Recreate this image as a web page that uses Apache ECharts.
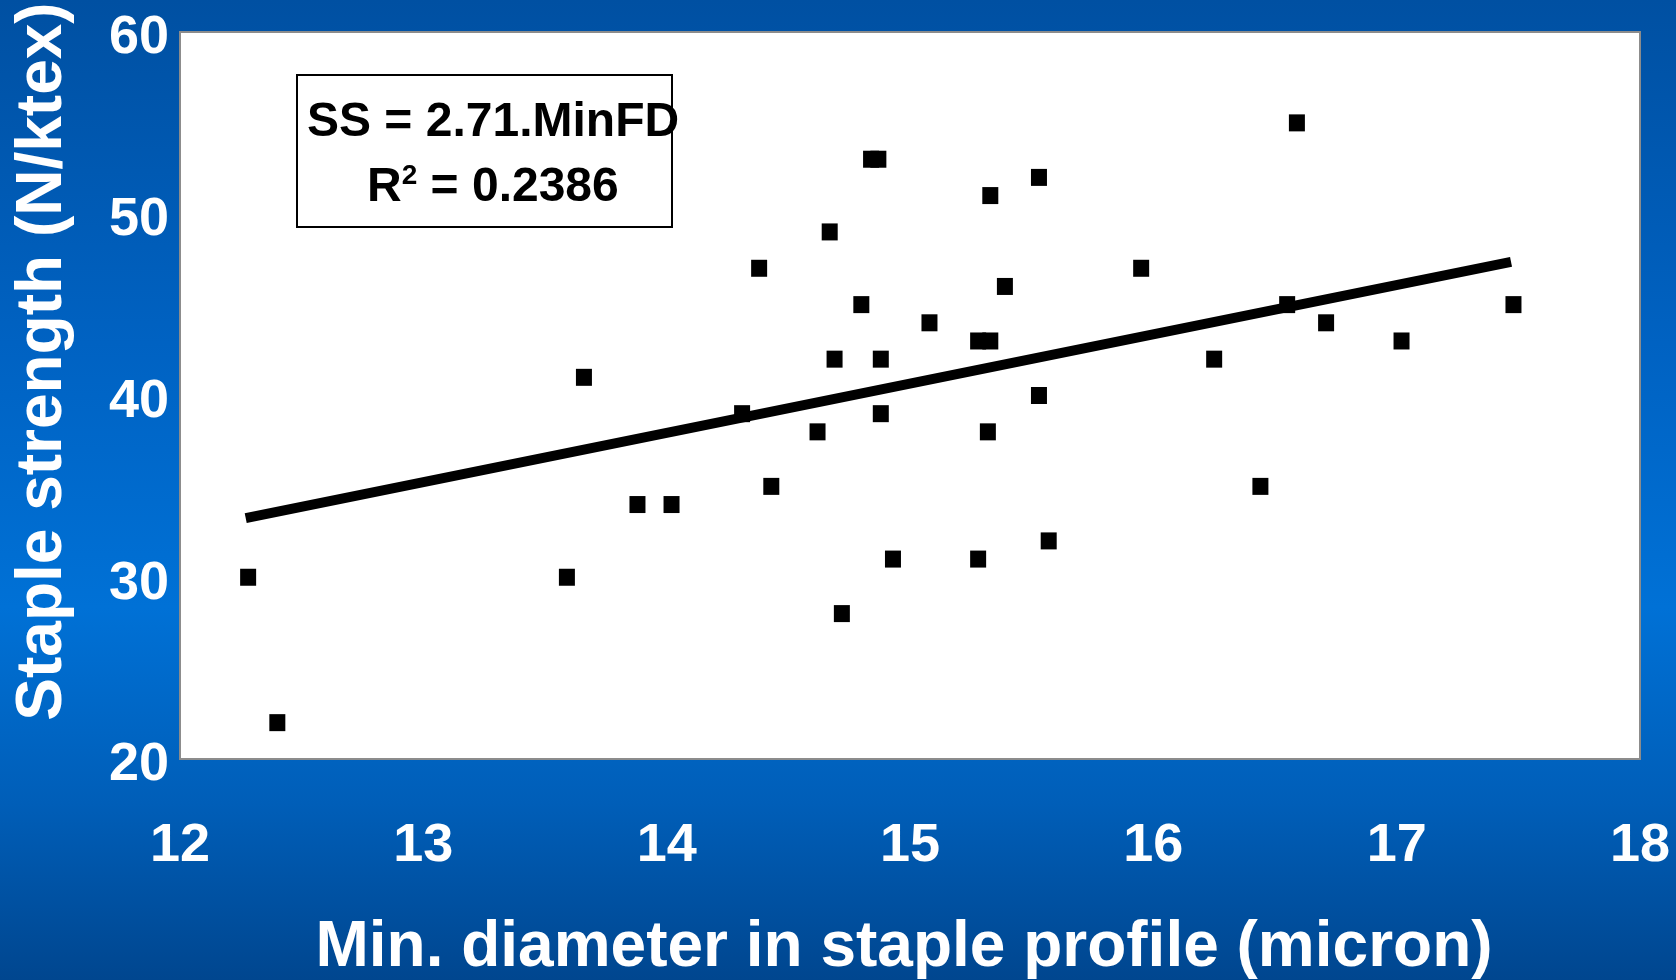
<!DOCTYPE html>
<html>
<head>
<meta charset="utf-8">
<script src="https://cdn.jsdelivr.net/npm/echarts@6/dist/echarts.min.js"></script>
<style>
html,body{margin:0;padding:0;width:1676px;height:980px;overflow:hidden;}
#chart{width:1676px;height:980px;}
</style>
</head>
<body>
<div id="chart"></div>
<script>
// Min. fibre diameter in staple profile (micron)
var minFD = [12.28, 12.40, 13.59, 13.66, 13.88, 14.02, 14.31, 14.38, 14.43, 14.62, 14.67, 14.69, 14.72, 14.80, 14.84, 14.87, 14.88, 14.88, 14.93, 15.08, 15.28, 15.33, 15.28, 15.32, 15.33, 15.39, 15.53, 15.53, 15.57, 15.95, 16.25, 16.44, 16.55, 16.59, 16.71, 17.02, 17.48];
// Staple strength (N/ktex)
var staple = [30, 22, 30, 41, 34, 34, 39, 47, 35, 38, 49, 42, 28, 45, 53, 53, 42, 39, 31, 44, 43, 43, 31, 38, 51, 46, 52, 40, 32, 47, 42, 35, 45, 55, 44, 43, 45];
// Trend line endpoints (SS = 2.71 * MinFD)
var trendX = [12.27, 17.47];
var trendY = [33.25, 47.35];
// Axis ticks
var xTicks = [12, 13, 14, 15, 16, 17, 18];
var yTicks = [20, 30, 40, 50, 60];
var eqLine1 = 'SS = 2.71.MinFD';
var eqLine2 = '{r|R}{s|2}{r| = 0.2386}';

var FONT = '"Liberation Sans", Arial, sans-serif';
var chart = echarts.init(document.getElementById('chart'), null, {renderer: 'canvas'});

var points = minFD.map(function (x, i) { return [x, staple[i]]; });
var trend = trendX.map(function (x, i) { return [x, trendY[i]]; });

chart.setOption({
  animation: false,
  backgroundColor: {
    type: 'linear', x: 0, y: 0, x2: 0, y2: 1,
    colorStops: [
      {offset: 0, color: '#0050A2'},
      {offset: 0.35, color: '#0062C2'},
      {offset: 0.62, color: '#0071D6'},
      {offset: 0.82, color: '#005EB8'},
      {offset: 1, color: '#00468F'}
    ]
  },
  grid: {
    left: 180, top: 32, width: 1460, height: 727,
    outerBoundsMode: 'none', containLabel: false,
    show: true, backgroundColor: '#ffffff', borderColor: '#8c8c8c', borderWidth: 2
  },
  xAxis: {
    type: 'value', min: xTicks[0], max: xTicks[xTicks.length - 1], interval: 1,
    axisLine: {show: false}, axisTick: {show: false}, splitLine: {show: false},
    axisLabel: {color: '#ffffff', fontFamily: FONT, fontWeight: 'bold', fontSize: 54, margin: 60},
    name: 'Min. diameter in staple profile (micron)',
    nameLocation: 'middle', nameGap: 157,
    nameTextStyle: {color: '#ffffff', fontFamily: FONT, fontWeight: 'bold', fontSize: 64, padding: [0, 12, 0, 0]}
  },
  yAxis: {
    type: 'value', min: yTicks[0], max: yTicks[yTicks.length - 1], interval: 10,
    axisLine: {show: false}, axisTick: {show: false}, splitLine: {show: false},
    axisLabel: {
      margin: 11,
      formatter: '{v|{value}}',
      rich: {
        v: {color: '#ffffff', fontFamily: FONT, fontWeight: 'bold', fontSize: 54, lineHeight: 54, padding: [13, 0, 0, 0]}
      }
    },
    name: 'Staple strength (N/ktex)',
    nameLocation: 'middle', nameGap: 105,
    nameTextStyle: {color: '#ffffff', fontFamily: FONT, fontWeight: 'bold', fontSize: 64, padding: [0, 0, 0, 68]}
  },
  graphic: [
    {
      type: 'rect', left: 296, top: 74, z: 10,
      shape: {width: 375, height: 152},
      style: {fill: '#ffffff', stroke: '#000000', lineWidth: 2}
    },
    {
      type: 'text', left: 307, top: 99, z: 11,
      style: {text: eqLine1, fill: '#000000', font: 'bold 48px ' + FONT}
    },
    {
      type: 'text', left: 367, top: 162, z: 11,
      style: {
        text: eqLine2, fill: '#000000',
        rich: {
          r: {fontFamily: FONT, fontWeight: 'bold', fontSize: 48, fill: '#000000', lineHeight: 52},
          s: {fontFamily: FONT, fontWeight: 'bold', fontSize: 28, fill: '#000000', verticalAlign: 'top', lineHeight: 30}
        }
      }
    }
  ],
  series: [
    {
      type: 'line', data: trend, symbol: 'none', z: 2,
      lineStyle: {color: '#000000', width: 10}
    },
    {
      type: 'scatter', data: points, symbol: 'rect', symbolSize: [16, 17], z: 3,
      itemStyle: {color: '#000000', opacity: 1}
    }
  ]
});
</script>
</body>
</html>
